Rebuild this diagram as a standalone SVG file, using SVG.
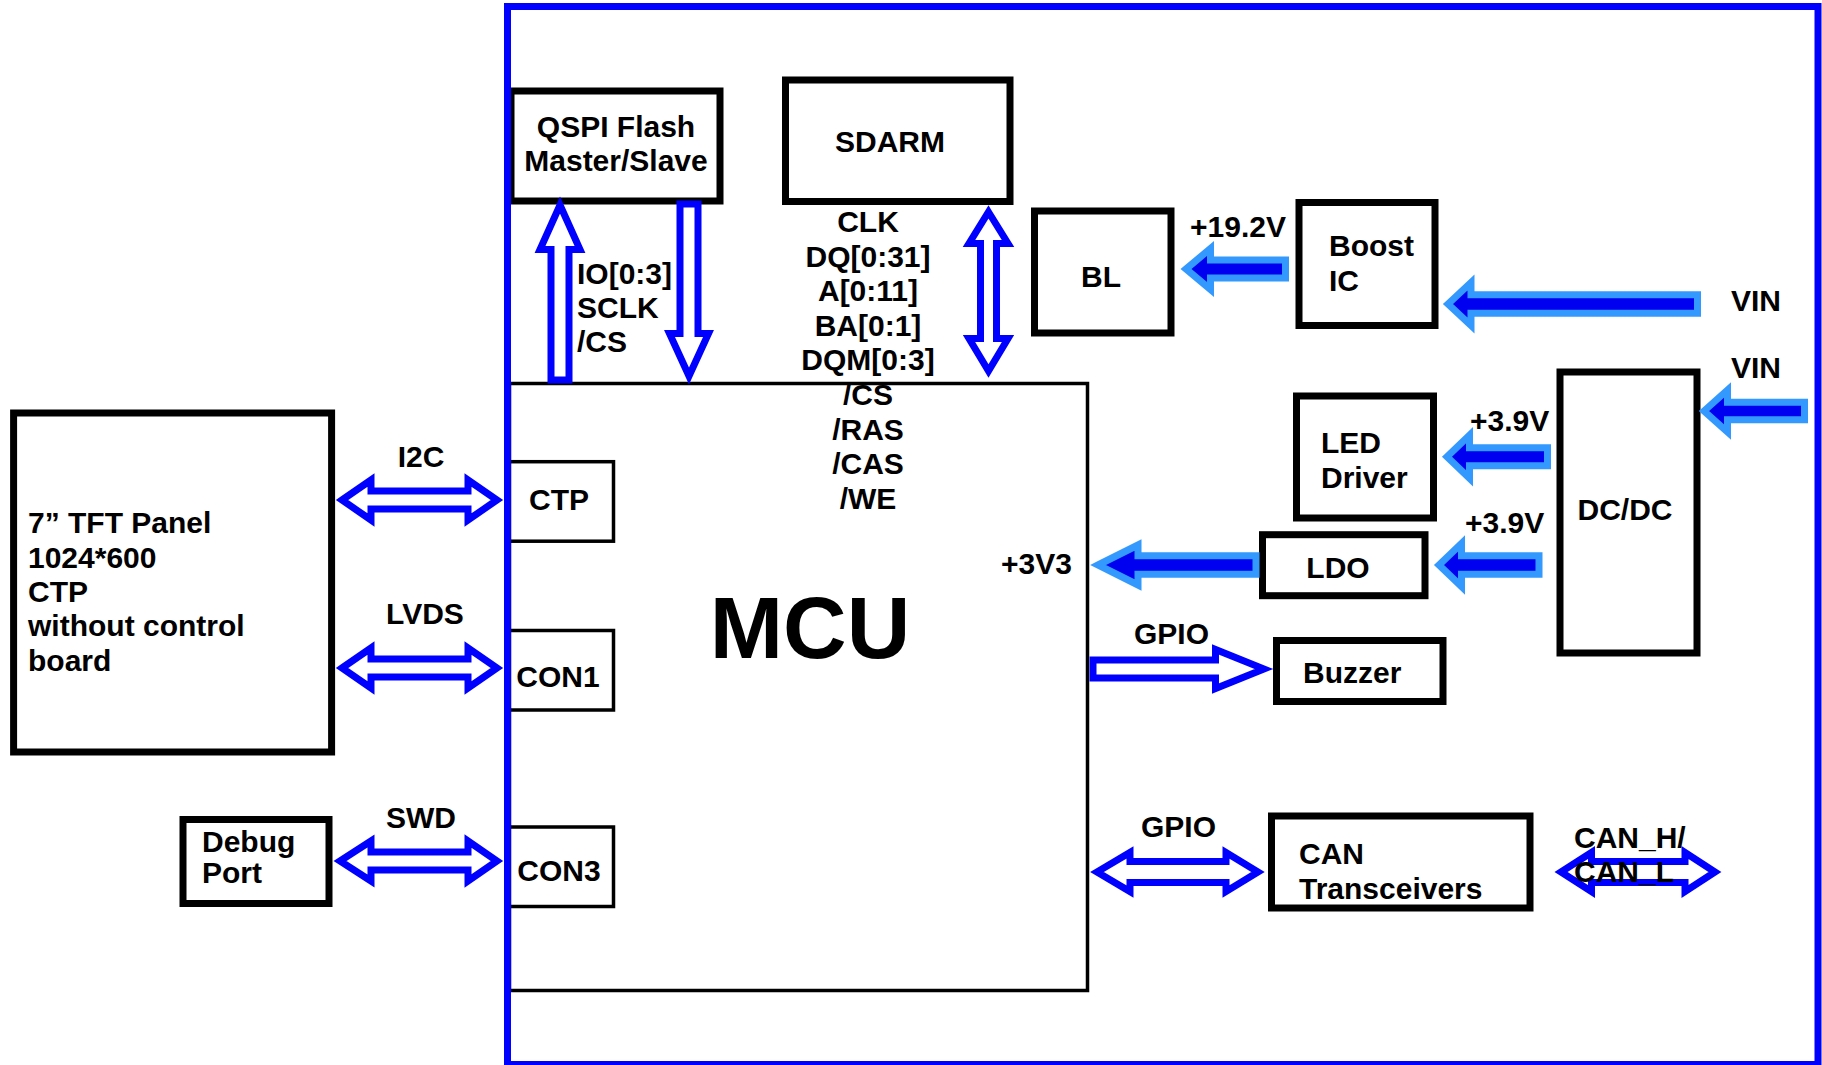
<svg xmlns="http://www.w3.org/2000/svg" width="1822" height="1065" viewBox="0 0 1822 1065">
<style>
text{font-family:"Liberation Sans",Arial,Helvetica,sans-serif;font-weight:bold;font-size:30px;fill:#000}
.c{text-anchor:middle}
.box{fill:#fff;stroke:#000;stroke-width:7}
.thin{fill:#fff;stroke:#000;stroke-width:3.5}
.hollow{fill:#fff;stroke:#0000ff;stroke-width:7;stroke-linejoin:miter}
.power{fill:#0000f0;stroke:#3399ff;stroke-width:7;stroke-linejoin:miter}
</style>
<rect width="1822" height="1065" fill="#fff"/>
<g id="mcu">
<rect class="thin" x="509.5" y="383.5" width="578" height="607"/>
<text class="c" x="810" y="658" style="font-size:88px">MCU</text>
</g>
<g id="ctp"><rect class="thin" x="509.5" y="461.7" width="104" height="79.5"/><text class="c" x="559" y="510">CTP</text></g>
<g id="con1"><rect class="thin" x="509.5" y="630.5" width="104" height="79.5"/><text class="c" x="558" y="687">CON1</text></g>
<g id="con3"><rect class="thin" x="509.5" y="827" width="104" height="79.5"/><text class="c" x="559" y="881">CON3</text></g>
<g id="qspi"><rect class="box" x="511" y="91" width="209" height="110"/><text class="c" x="616" y="137">QSPI Flash</text><text class="c" x="616" y="171">Master/Slave</text></g>
<g id="sdram"><rect class="box" x="785.5" y="80" width="224.5" height="121.5"/><text class="c" x="890" y="152">SDARM</text></g>
<g id="bl"><rect class="box" x="1034.5" y="211" width="136.5" height="122"/><text class="c" x="1101" y="287">BL</text></g>
<g id="boost"><rect class="box" x="1299" y="202.5" width="136" height="123"/><text x="1329" y="256">Boost</text><text x="1329" y="291">IC</text></g>
<g id="led"><rect class="box" x="1296.5" y="396" width="137" height="122"/><text x="1321" y="453">LED</text><text x="1321" y="488">Driver</text></g>
<g id="dcdc"><rect class="box" x="1560" y="372" width="137" height="281"/><text class="c" x="1625" y="520">DC/DC</text></g>
<g id="ldo"><rect class="box" x="1262.5" y="534.7" width="162.5" height="61"/><text class="c" x="1338" y="578">LDO</text></g>
<g id="buzzer"><rect class="box" x="1276.5" y="640.5" width="166.5" height="61"/><text x="1303" y="683">Buzzer</text></g>
<g id="can"><rect class="box" x="1271.5" y="816" width="258.5" height="92"/><text x="1299" y="864">CAN</text><text x="1299" y="899">Transceivers</text></g>
<g id="panel"><rect class="box" x="13.6" y="413" width="318" height="339"/>
<text x="28" y="533">7” TFT Panel</text><text x="28" y="568">1024*600</text><text x="28" y="602">CTP</text><text x="28" y="636">without control</text><text x="28" y="671">board</text></g>
<g id="debug"><rect class="box" x="183" y="819.5" width="146" height="84"/><text x="202" y="852">Debug</text><text x="202" y="883">Port</text></g>
<g id="board"><rect x="507.5" y="6.5" width="1310.5" height="1058" fill="none" stroke="#0000ff" stroke-width="7"/></g>
<g id="connectors">
<polygon class="hollow" points="560,205 580,249.5 569,249.5 569,380 551,380 551,249.5 540,249.5"/>
<polygon class="hollow" points="680,204 698,204 698,333.5 708.5,333.5 689,376 669.5,333.5 680,333.5"/>
<polygon class="hollow" points="988.5,212 1008,243.5 996.5,243.5 996.5,338.5 1008,338.5 988.5,371 969,338.5 980.5,338.5 980.5,243.5 969,243.5"/>
<polygon class="hollow" points="342,500 371,480 371,491 468,491 468,480 497,500 468,520 468,509 371,509 371,520"/>
<polygon class="hollow" points="342,668 371,648 371,659 468,659 468,648 497,668 468,688 468,677 371,677 371,688"/>
<polygon class="hollow" points="340,861 371,841 371,852 468,852 468,841 497,861 468,881 468,870 371,870 371,881"/>
<polygon class="hollow" points="1093,660 1215.5,660 1215.5,649.5 1264,669 1215.5,688.5 1215.5,678 1093,678"/>
<polygon class="hollow" points="1097,872 1130,852.5 1130,861.5 1226,861.5 1226,852.5 1258,872 1226,891.5 1226,882.5 1130,882.5 1130,891.5"/>
<polygon class="hollow" points="1561,872 1591.5,852.5 1591.5,861.5 1685,861.5 1685,852.5 1715,872 1685,891.5 1685,882.5 1591.5,882.5 1591.5,891.5"/>
<polygon class="power" points="1186,269 1210.5,248.5 1210.5,260 1285.5,260 1285.5,278 1210.5,278 1210.5,289.5"/>
<polygon class="power" points="1448,304 1471,282.5 1471,294.7 1697.5,294.7 1697.5,313.3 1471,313.3 1471,325.5"/>
<polygon class="power" points="1704,411 1727.5,390 1727.5,402.3 1804.5,402.3 1804.5,419.7 1727.5,419.7 1727.5,432"/>
<polygon class="power" points="1447,456.7 1469.5,435.2 1469.5,447.7 1547.5,447.7 1547.5,465.7 1469.5,465.7 1469.5,478.2"/>
<polygon class="power" points="1439,565 1461.5,543.5 1461.5,555.7 1539,555.7 1539,574.3 1461.5,574.3 1461.5,586.5"/>
<polygon class="power" points="1098,565 1138,545 1138,555.8 1256,555.8 1256,574.2 1138,574.2 1138,585"/>
<text x="577" y="284">IO[0:3]</text><text x="577" y="318">SCLK</text><text x="577" y="352">/CS</text>
<text class="c" x="868" y="232">CLK</text>
<text class="c" x="868" y="266.6">DQ[0:31]</text>
<text class="c" x="868" y="301.2">A[0:11]</text>
<text class="c" x="868" y="335.8">BA[0:1]</text>
<text class="c" x="868" y="370.4">DQM[0:3]</text>
<text class="c" x="868" y="405">/CS</text>
<text class="c" x="868" y="439.6">/RAS</text>
<text class="c" x="868" y="474.2">/CAS</text>
<text class="c" x="868" y="508.8">/WE</text>
<text class="c" x="421" y="467">I2C</text>
<text class="c" x="425" y="624">LVDS</text>
<text class="c" x="421" y="828">SWD</text>
<text x="1190" y="237">+19.2V</text>
<text x="1731" y="311">VIN</text>
<text x="1731" y="378">VIN</text>
<text x="1470" y="431">+3.9V</text>
<text x="1465" y="533">+3.9V</text>
<text x="1001" y="574">+3V3</text>
<text x="1134" y="644">GPIO</text>
<text x="1141" y="837">GPIO</text>
<text x="1574" y="848">CAN_H/</text>
<text x="1574" y="882">CAN_L</text>
</g>
</svg>
